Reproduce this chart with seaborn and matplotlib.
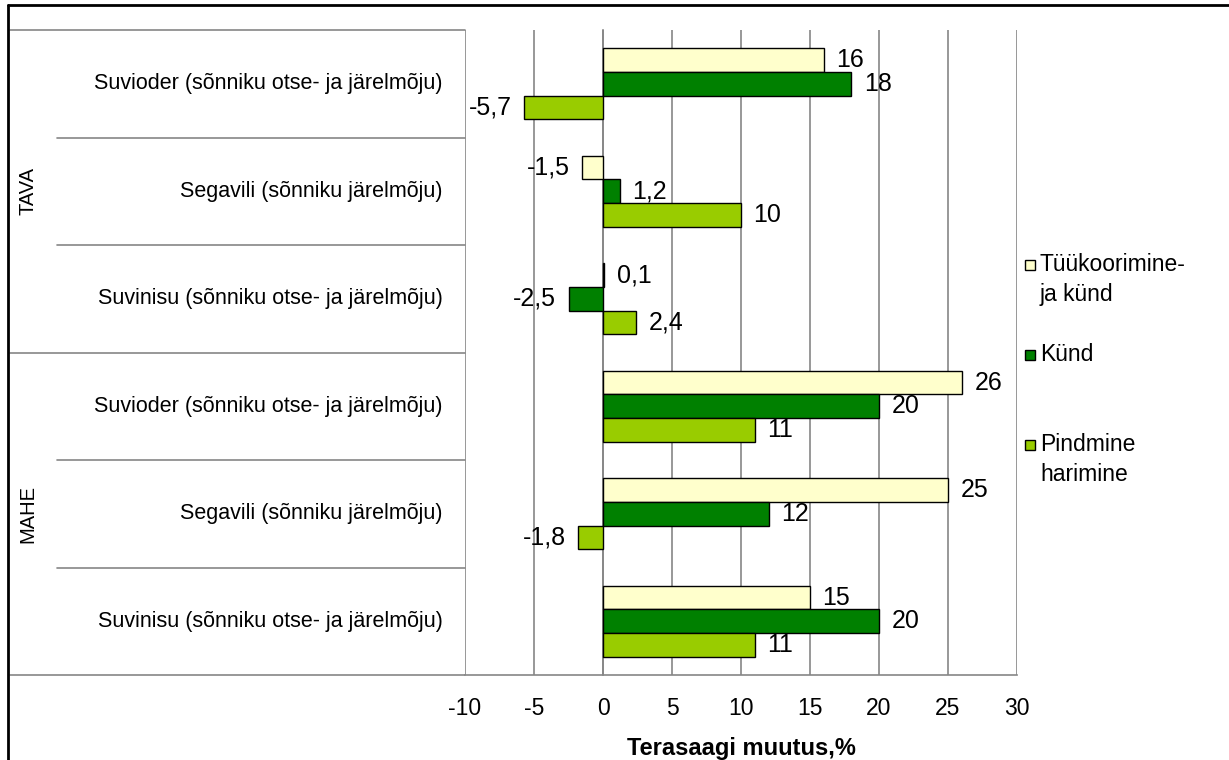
import matplotlib
matplotlib.use("Agg")
import matplotlib.pyplot as plt
from matplotlib.lines import Line2D
from matplotlib.patches import Rectangle
from matplotlib.transforms import blended_transform_factory
import seaborn as sns
import pandas as pd

# ---- data -------------------------------------------------------------
groups = ["TAVA", "TAVA", "TAVA", "MAHE", "MAHE", "MAHE"]
crops = [
    "Suvioder (sõnniku otse- ja järelmõju)",
    "Segavili (sõnniku järelmõju)",
    "Suvinisu (sõnniku otse- ja järelmõju)",
    "Suvioder (sõnniku otse- ja järelmõju)",
    "Segavili (sõnniku järelmõju)",
    "Suvinisu (sõnniku otse- ja järelmõju)",
]
series = ["Tüükoorimine-\nja künd", "Künd", "Pindmine\nharimine"]
tyykoorimine = [16, -1.5, 0.1, 26, 25, 15]
kynd = [18, 1.2, -2.5, 20, 12, 20]
pindmine = [-5.7, 10, 2.4, 11, -1.8, 11]
colors = ["#FFFFCC", "#008000", "#99CC00"]
xticks = [-10, -5, 0, 5, 10, 15, 20, 25, 30]
xlabel = "Terasaagi muutus,%"

keys = [f"{g}|{c}" for g, c in zip(groups, crops)]
rows = []
for name, vals in zip(series, [tyykoorimine, kynd, pindmine]):
    for k, v in zip(keys, vals):
        rows.append({"key": k, "series": name, "value": v})
df = pd.DataFrame(rows)

# ---- style ------------------------------------------------------------
sns.set_style("white")
plt.rcParams["font.family"] = ["Liberation Sans", "DejaVu Sans"]
plt.rcParams["text.color"] = "black"
plt.rcParams["axes.labelcolor"] = "black"
plt.rcParams["xtick.labelcolor"] = "black"
plt.rcParams["ytick.labelcolor"] = "black"
GRID = "#868686"

W, H = 1229, 760
fig = plt.figure(figsize=(W / 100, H / 100), dpi=100)
ax = fig.add_axes([465 / W, (H - 675) / H, 552 / W, 645 / H])

sns.barplot(
    data=df, x="value", y="key", hue="series", order=keys, hue_order=series,
    orient="h", palette=colors, saturation=1, width=0.66, edgecolor="black",
    linewidth=1, errorbar=None, legend=False, ax=ax, zorder=3,
)

ax.set_xlim(-10, 30)
ax.set_xticks(xticks)
ax.set_xticklabels([str(t) for t in xticks], fontsize=16.5, color="black")
ax.grid(axis="x", color=GRID, linewidth=1.2, zorder=0)
ax.grid(axis="y", visible=False)
ax.set_ylabel("")
ax.set_xlabel(xlabel, fontsize=17, fontweight="bold", labelpad=12, color="black")

# value axis at zero with boundary ticks between categories
ax.spines["left"].set_position(("data", 0))
ax.spines["left"].set_color(GRID)
ax.spines["left"].set_linewidth(1.2)
ax.spines["left"].set_zorder(2)
ax.set_yticks([i - 0.5 for i in range(len(keys) + 1)])
ax.set_yticklabels([])
ax.tick_params(axis="y", length=6, width=1.2, color=GRID, direction="out")
ax.tick_params(axis="x", length=7, width=1.2, color=GRID, direction="out", pad=9)
for s in ["top", "right"]:
    ax.spines[s].set_visible(False)
ax.spines["bottom"].set_color(GRID)
ax.spines["bottom"].set_linewidth(1.2)

# value labels
def fmt(v):
    return f"{v:g}".replace(".", ",")

for cont in ax.containers:
    ax.bar_label(cont, fmt=fmt, padding=9, fontsize=18, color="black")

# category table on the left
tr = blended_transform_factory(fig.transFigure, ax.transData)
for i, c in enumerate(crops):
    ax.text(443 / W, i, c, transform=tr, ha="right", va="center", fontsize=15.5,
            color="black", clip_on=False)
for g, center in [("TAVA", 1), ("MAHE", 4)]:
    ax.text(28 / W, center, g, transform=tr, rotation=90, ha="center", va="center",
            fontsize=14.5, color="black", clip_on=False)
for yb in [-0.5, 2.5, 5.5]:
    ax.add_line(Line2D([10 / W, 465 / W], [yb, yb], transform=tr, color=GRID,
                       linewidth=1.2, clip_on=False))
for yb in [0.5, 1.5, 3.5, 4.5]:
    ax.add_line(Line2D([57 / W, 465 / W], [yb, yb], transform=tr, color=GRID,
                       linewidth=1.2, clip_on=False))

# legend
leg_y = [265, 355, 445]
for name, col, yc in zip(series, colors, leg_y):
    fig.add_artist(Rectangle((1025 / W, (H - yc - 5) / H), 10 / W, 10 / H,
                             transform=fig.transFigure, facecolor=col,
                             edgecolor="black", linewidth=1))
    fig.text(1040 / W, (H - yc + 12) / H, name, ha="left", va="top",
             fontsize=16.5, linespacing=1.4, color="black")

# outer frame
fig.add_artist(Line2D([8 / W, 1], [1 - 5 / H, 1 - 5 / H], transform=fig.transFigure,
                      color="black", linewidth=2))
fig.add_artist(Line2D([8 / W, 8 / W], [0, 1 - 5 / H], transform=fig.transFigure,
                      color="black", linewidth=2))

fig.savefig("out.png", dpi=100)
